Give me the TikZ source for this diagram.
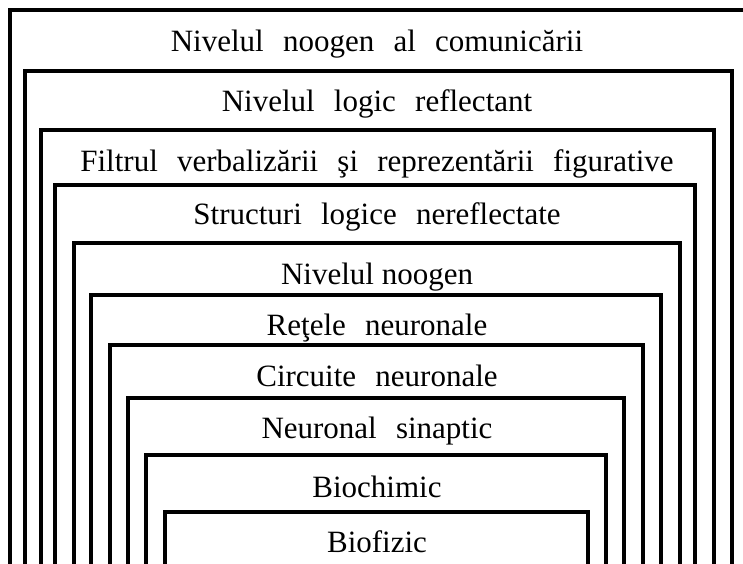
\documentclass[tikz,border=0pt]{standalone}
\usepackage{fontspec}
\setmainfont{Liberation Serif}
\tikzset{
  frame/.style={line width=4pt, line join=miter, line cap=butt},
  lbl/.style={anchor=base, inner sep=0pt, font=\fontsize{31}{36}\selectfont}
}
\newcommand{\ws}{\hspace{0.62em}}
\begin{document}
\begin{tikzpicture}[x=1pt,y=-1pt]
\useasboundingbox (0,0) rectangle (743,563);
\clip (0,0) rectangle (743,563);
\foreach \l/\t/\r in {10/10/750, 25/71/732, 41/130/714, 55/185/695, 74/243/680,
                      91/295/661, 110/345/643, 128/398/624, 146/455/606, 165/512/588}
  \draw[frame] (\l,575) -- (\l,\t) -- (\r,\t) -- (\r,575);
\node[lbl] (t1)  at (377,51)  {Nivelul\ws noogen\ws al\ws comunicării};
\node[lbl] (t2)  at (377,111) {Nivelul\ws logic\ws reflectant};
\node[lbl] (t3)  at (377,171) {Filtrul\ws verbalizării\ws şi\ws reprezentării\ws figurative};
\node[lbl] (t4)  at (377,224) {Structuri\ws logice\ws nereflectate};
\node[lbl] (t5)  at (377,284) {Nivelul noogen};
\node[lbl] (t6)  at (377,335) {Reţele\ws neuronale};
\node[lbl] (t7)  at (377,386) {Circuite\ws neuronale};
\node[lbl] (t8)  at (377,438) {Neuronal\ws sinaptic};
\node[lbl] (t9)  at (377,497) {Biochimic};
\node[lbl] (t10) at (377,552) {Biofizic};
\end{tikzpicture}
\end{document}
